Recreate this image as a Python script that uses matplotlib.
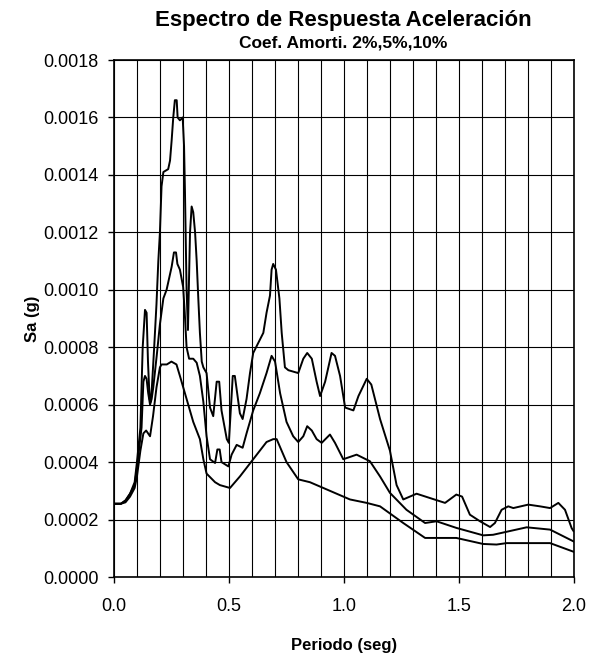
import matplotlib
matplotlib.use("Agg")
import matplotlib.pyplot as plt
from matplotlib.ticker import MultipleLocator, FormatStrFormatter

plt.rcParams['font.family'] = ['Liberation Sans', 'DejaVu Sans']

# periodo (seg) / Sa (g)
periodo_2 = [0.0, 0.03, 0.05, 0.07, 0.09, 0.10, 0.115, 0.125, 0.135, 0.142, 0.148, 0.155, 0.16,
             0.165, 0.175, 0.185, 0.193, 0.20, 0.207, 0.215, 0.236, 0.244, 0.251, 0.258, 0.265,
             0.273, 0.277, 0.287, 0.299, 0.305, 0.309, 0.316, 0.322, 0.327, 0.331, 0.338, 0.345,
             0.353, 0.36, 0.367, 0.374, 0.382, 0.389, 0.403, 0.418, 0.432, 0.447, 0.458, 0.468,
             0.491, 0.50, 0.517, 0.526, 0.548, 0.56, 0.577, 0.592, 0.606, 0.65, 0.664, 0.679,
             0.686, 0.693, 0.705, 0.72, 0.73, 0.744, 0.759, 0.802, 0.824, 0.841, 0.861, 0.882,
             0.897, 0.919, 0.947, 0.962, 0.984, 1.006, 1.042, 1.064, 1.10, 1.12, 1.158, 1.201,
             1.23, 1.259, 1.317, 1.375, 1.441, 1.49, 1.515, 1.549, 1.593, 1.637, 1.658, 1.687,
             1.716, 1.738, 1.803, 1.854, 1.898, 1.934, 1.963, 1.992, 2.0]
sa_2 = [0.000255, 0.000255, 0.000267, 0.00029, 0.00033, 0.00040, 0.00052, 0.00080, 0.00093,
        0.00092, 0.00075, 0.00062, 0.00061, 0.00066, 0.00080, 0.00095, 0.00110, 0.00120,
        0.00136, 0.00141, 0.00142, 0.00145, 0.00152, 0.00160, 0.00166, 0.00166, 0.00160,
        0.00159, 0.00160, 0.00150, 0.00134, 0.00100, 0.00086, 0.00105, 0.00120, 0.00129,
        0.00127, 0.00120, 0.00110, 0.00097, 0.00085, 0.00075, 0.00073, 0.00071, 0.00059,
        0.00056, 0.00068, 0.00068, 0.00058, 0.00048, 0.000467, 0.00070, 0.00070, 0.00057,
        0.00055, 0.00062, 0.00071, 0.00078, 0.00085, 0.00092, 0.00098, 0.00107, 0.00109,
        0.00107, 0.00097, 0.00085, 0.00073, 0.00072, 0.00071, 0.00076, 0.00078, 0.00076,
        0.00068, 0.00063, 0.00068, 0.00078, 0.00077, 0.00070, 0.00059, 0.00058, 0.00063,
        0.00069, 0.00067, 0.00055, 0.00044, 0.00032, 0.00027, 0.00029, 0.000275, 0.000258,
        0.000287, 0.00028, 0.000217, 0.000194, 0.000174, 0.000188, 0.000234, 0.000246,
        0.00024, 0.000252, 0.000246, 0.00024, 0.000258, 0.000234, 0.00017, 0.00016]

periodo_5 = [0.0, 0.03, 0.05, 0.07, 0.09, 0.10, 0.11, 0.12, 0.128, 0.135, 0.142, 0.149, 0.157,
             0.164, 0.171, 0.186, 0.20, 0.215, 0.229, 0.251, 0.261, 0.27, 0.276, 0.287, 0.301,
             0.308, 0.316, 0.327, 0.345, 0.36, 0.374, 0.389, 0.403, 0.418, 0.44, 0.45, 0.46,
             0.468, 0.498, 0.512, 0.534, 0.56, 0.577, 0.606, 0.635, 0.664, 0.686, 0.701, 0.723,
             0.751, 0.78, 0.802, 0.824, 0.841, 0.861, 0.882, 0.904, 0.94, 0.962, 0.998, 1.056,
             1.114, 1.158, 1.201, 1.273, 1.354, 1.404, 1.49, 1.607, 1.65, 1.796, 1.898, 2.0]
sa_5 = [0.000255, 0.000255, 0.000265, 0.00029, 0.00032, 0.00038, 0.00045, 0.00052, 0.00068,
        0.00070, 0.00069, 0.00064, 0.00060, 0.00062, 0.00066, 0.00077, 0.00088, 0.00097,
        0.00100, 0.00108, 0.00113, 0.00113, 0.00109, 0.00107, 0.00101, 0.00092, 0.00080,
        0.00076, 0.00076, 0.000746, 0.00070, 0.00061, 0.00049, 0.00041, 0.000397, 0.000444,
        0.000444, 0.00040, 0.000385, 0.000426, 0.00046, 0.00045, 0.00050, 0.00058, 0.00064,
        0.00071, 0.00077, 0.00075, 0.00064, 0.00054, 0.00049, 0.00047, 0.00049, 0.000525,
        0.00051, 0.00048, 0.000467, 0.000496, 0.000467, 0.00041, 0.000426, 0.000403, 0.00035,
        0.000293, 0.000234, 0.000188, 0.000194, 0.000171, 0.000145, 0.000147, 0.000173,
        0.000165, 0.000124]

periodo_10 = [0.0, 0.03, 0.05, 0.07, 0.09, 0.10, 0.115, 0.128, 0.14, 0.157, 0.17, 0.185, 0.20,
              0.207, 0.23, 0.25, 0.272, 0.287, 0.316, 0.345, 0.374, 0.389, 0.403, 0.44, 0.461,
              0.505, 0.548, 0.606, 0.664, 0.693, 0.708, 0.751, 0.802, 0.853, 0.94, 1.027, 1.10,
              1.158, 1.259, 1.354, 1.49, 1.607, 1.665, 1.709, 1.898, 2.0]
sa_10 = [0.000255, 0.000255, 0.00026, 0.00028, 0.00031, 0.00035, 0.00044, 0.00050, 0.00051,
         0.00049, 0.00056, 0.00066, 0.00073, 0.00074, 0.00074, 0.00075, 0.00074, 0.00070,
         0.00062, 0.00054, 0.00048, 0.00041, 0.00036, 0.00033, 0.00032, 0.00031, 0.00035,
         0.00041, 0.00047, 0.00048, 0.00048, 0.00040, 0.00034, 0.00033, 0.00030, 0.00027,
         0.000258, 0.000246, 0.000188, 0.000136, 0.000136, 0.000115, 0.000113, 0.000118,
         0.000118, 0.000088]

fig = plt.figure(figsize=(5.89, 6.58), dpi=100)
ax = fig.add_axes([0.1935, 0.1231, 0.7802, 0.7857])

for per, sa in [(periodo_2, sa_2), (periodo_5, sa_5), (periodo_10, sa_10)]:
    ax.plot(per, sa, color='black', linewidth=1.4)

ax.set_xlim(0, 2.0)
ax.set_ylim(0, 0.0018)
ax.xaxis.set_major_locator(MultipleLocator(0.5))
ax.xaxis.set_minor_locator(MultipleLocator(0.1))
ax.yaxis.set_major_locator(MultipleLocator(0.0002))
ax.xaxis.set_major_formatter(FormatStrFormatter('%.1f'))
ax.yaxis.set_major_formatter(FormatStrFormatter('%.4f'))

ax.grid(True, which='both', axis='x', color='black', linewidth=0.8)
ax.grid(True, which='major', axis='y', color='black', linewidth=0.8)
ax.set_axisbelow(True)

ax.tick_params(axis='both', which='major', direction='out', length=4, width=1,
               labelsize=13, color='black')
ax.tick_params(axis='x', which='major', pad=11)
ax.tick_params(axis='y', which='major', pad=7)
ax.tick_params(axis='x', which='minor', length=0)
for s in ax.spines.values():
    s.set_color('black')
    s.set_linewidth(1.2)

ax.set_xlabel('Periodo (seg)', fontsize=12, fontweight='bold', labelpad=17)
ax.set_ylabel('Sa (g)', fontsize=12, fontweight='bold', labelpad=2)

fig.text(0.5835, 0.9696, 'Espectro de Respuesta Aceleración', ha='center', va='center',
         fontsize=16, fontweight='bold')
fig.text(0.5835, 0.9347, 'Coef. Amorti. 2%,5%,10%', ha='center', va='center',
         fontsize=12.5, fontweight='bold')

fig.savefig('out.png', dpi=100)
